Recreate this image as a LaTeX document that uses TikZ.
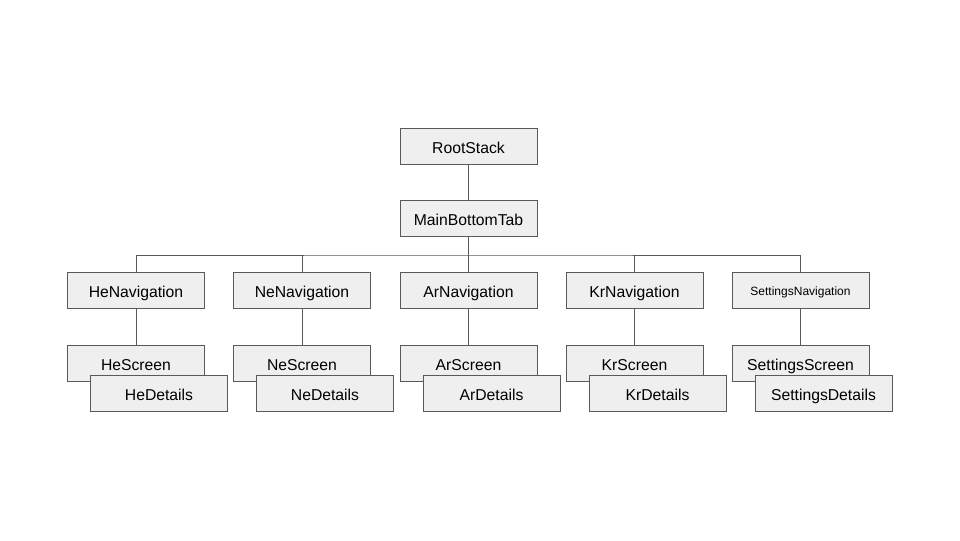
\documentclass[tikz,border=0pt]{standalone}
\usepackage{fontspec}
\setmainfont{Liberation Sans}
\definecolor{boxfill}{HTML}{EFEFEF}
\definecolor{boxline}{HTML}{595959}
\begin{document}
\begin{tikzpicture}[x=0.75pt,y=-0.75pt,
  box/.style={draw=boxline,fill=boxfill,line width=0.75pt,minimum width=102.75pt,minimum height=27pt,inner sep=0pt,text height=12pt,text depth=1.5pt,font=\fontsize{11.8}{13}\selectfont},
  small/.style={font=\fontsize{9}{11}\selectfont,text height=9pt,text depth=1.5pt},
  conn/.style={draw=boxline,line width=0.75pt}]
\useasboundingbox (0,0) rectangle (960,540);
\node[box] (root) at (468.5,146) {RootStack};
\node[box] (main) at (468.5,218) {MainBottomTab};
\coordinate (bus) at (468.5,255);
\foreach \n/\x/\lab/\st in {he/136/HeNavigation/box, ne/302/NeNavigation/box, ar/468.5/ArNavigation/box, kr/634.5/KrNavigation/box, se/800.5/SettingsNavigation/small}{
  \node[box,\st] (\n nav) at (\x,290) {\lab};
}
\foreach \n/\x/\a/\b in {he/136/HeScreen/HeDetails, ne/302/NeScreen/NeDetails, ar/468.5/ArScreen/ArDetails, kr/634.5/KrScreen/KrDetails, se/800.5/SettingsScreen/SettingsDetails}{
  \node[box] (\n scr) at (\x,363) {\a};
  \node[box] (\n det) at (\x+23,393) {\b};
}
\draw[conn] (root) -- (main);
\draw[conn] (main) -- (arnav);
\draw[conn] (henav.north) |- (bus) -| (senav.north);
\foreach \n in {ne,kr}{ \draw[conn] (\n nav.north) -- (\n nav.north |- bus); }
\foreach \n in {he,ne,ar,kr,se}{ \draw[conn] (\n nav) -- (\n scr); }
\end{tikzpicture}
\end{document}
